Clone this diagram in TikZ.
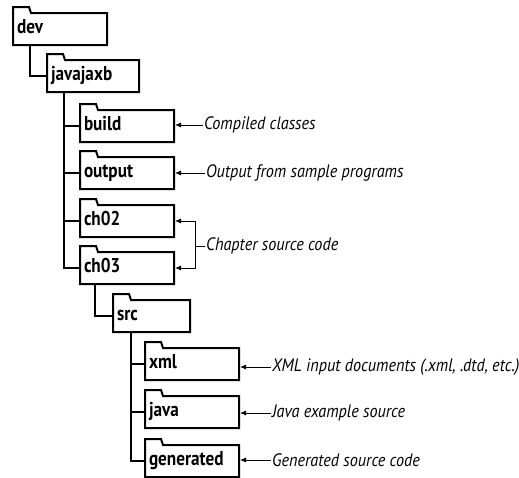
\documentclass[tikz,border=0pt]{standalone}
\usepackage{fontspec}
\newfontfamily\foldfont[FakeStretch=0.86]{PT Sans}
\newfontfamily\notefont[FakeStretch=0.9]{PT Sans}
\usetikzlibrary{arrows.meta}
\begin{document}
\begin{tikzpicture}[x=1pt,y=-1pt,
  folder/.style={anchor=north west, minimum height=32pt, outer sep=0pt,
    inner xsep=4pt, inner ysep=0pt, align=left, text height=13pt, text depth=4pt,
    font=\foldfont\bfseries\fontsize{20}{22}\selectfont},
  foldline/.style={line width=2pt, line join=miter},
  tree/.style={line width=2pt},
  note/.style={anchor=west, inner sep=1pt, font=\notefont\itshape\fontsize{18}{20}\selectfont},
  arr/.style={line width=0.9pt, shorten >=1pt, -{Latex[length=6pt,width=5pt]}},
  brk/.style={line width=0.9pt}]
\useasboundingbox (0,0) rectangle (519,477);
\clip (0,0) rectangle (519,477);
% folders
\node[folder, text width=86pt] (dev) at (13,13) {dev};
\node[folder, text width=84pt] (javajaxb) at (47,60) {javajaxb};
\node[folder, text width=86pt] (build) at (80,110) {build};
\node[folder, text width=86pt] (output) at (80,157) {output};
\node[folder, text width=86pt] (ch02) at (80,205) {ch02};
\node[folder, text width=86pt] (ch03) at (80,252) {ch03};
\node[folder, text width=69pt] (src) at (113,300) {src};
\node[folder, text width=86pt] (xml) at (145,348) {xml};
\node[folder, text width=86pt] (java) at (145,396) {java};
\node[folder, text width=86pt] (generated) at (145,445) {generated};
% folder outlines with tabs
\foreach \n in {dev,javajaxb,build,output,ch02,ch03,src,xml,java,generated}
  \draw[foldline] (\n.south west) -- ([yshift=6pt]\n.north west) -- ++(16,0)
    -- ++(2,6) -- (\n.north east) -- (\n.south east) -- cycle;
% tree connectors
\draw[tree] ([xshift=17pt]dev.south west) |- (javajaxb.west);
\foreach \c in {build,output,ch02,ch03}
  \draw[tree] ([xshift=17pt]javajaxb.south west) |- (\c.west);
\draw[tree] ([xshift=15pt]ch03.south west) |- (src.west);
\foreach \c in {xml,java,generated}
  \draw[tree] ([xshift=18pt]src.south west) |- (\c.west);
% notes
\node[note] (n1) at (203,125) {Compiled classes};
\node[note] (n2) at (205,173) {Output from sample programs};
\node[note] (n3) at (205,246) {Chapter source code};
\node[note] (n4) at (271,367) {XML input documents (.xml, .dtd, etc.)};
\node[note] (n5) at (271,413) {Java example source};
\node[note] (n6) at (271,460) {Generated source code};
\draw[arr] (n1.west) -- (n1.west -| build.east);
\draw[arr] (n2.west) -- (n2.west -| output.east);
\coordinate (br) at ([xshift=-10pt]n3.west);
\draw[brk] (n3.west) -- (br);
\draw[arr] (br) |- (ch02.east);
\draw[arr] (br) |- (ch03.east);
\draw[arr] (n4.west) -- (n4.west -| xml.east);
\draw[arr] (n5.west) -- (n5.west -| java.east);
\draw[arr] (n6.west) -- (n6.west -| generated.east);
\end{tikzpicture}
\end{document}
